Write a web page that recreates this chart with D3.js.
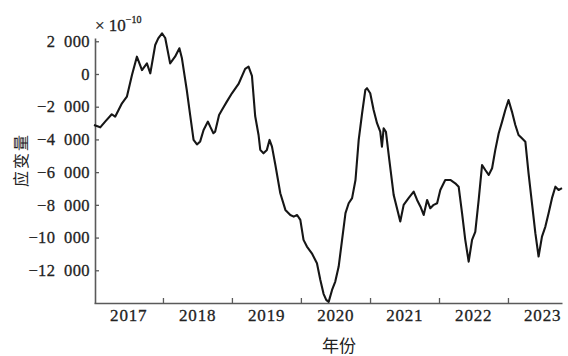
<!DOCTYPE html>
<html>
<head>
<meta charset="utf-8">
<script src="https://cdn.jsdelivr.net/npm/d3@7"></script>
<style>
  html, body { margin: 0; padding: 0; background: #fff; }
  svg { display: block; }
  .num { font-family: "Liberation Serif", "Times New Roman", serif; fill: #222; stroke: #222; stroke-width: 0.3; }
  .cjk { font-family: "Noto Sans CJK SC", sans-serif; fill: #222; }
</style>
</head>
<body>
<svg id="chart" width="568" height="356"></svg>
<script>
// Strain series (units of 1e-10), sampled along the record
const dates = [
  "2017-01-01","2017-02-03","2017-03-01","2017-04-05","2017-04-23","2017-05-29","2017-06-24","2017-07-21",
  "2017-08-16","2017-09-12","2017-10-08","2017-10-26","2017-11-21","2017-12-07","2017-12-27","2018-01-13",
  "2018-02-08","2018-03-06","2018-03-29","2018-04-11","2018-05-07","2018-05-25","2018-06-12","2018-06-30",
  "2018-07-17","2018-08-04","2018-08-27","2018-09-08","2018-09-25","2018-10-04","2018-10-25","2018-11-09",
  "2018-12-05","2019-01-01","2019-02-05","2019-03-12","2019-03-30","2019-04-17","2019-05-04","2019-05-22",
  "2019-05-31","2019-06-17","2019-07-05","2019-07-19","2019-08-01","2019-08-19","2019-09-14","2019-10-11",
  "2019-11-06","2019-11-24","2019-12-12","2019-12-29","2020-01-15","2020-02-02","2020-02-28","2020-03-26",
  "2020-04-13","2020-04-30","2020-05-14","2020-05-27","2020-06-14","2020-07-01","2020-07-19","2020-08-06",
  "2020-08-24","2020-09-10","2020-09-28","2020-10-16","2020-11-02","2020-11-20","2020-12-07","2020-12-16",
  "2021-01-02","2021-01-20","2021-02-07","2021-02-24","2021-03-05","2021-03-14","2021-03-26","2021-04-13",
  "2021-05-06","2021-06-10","2021-06-28","2021-07-24","2021-08-20","2021-09-07","2021-09-25","2021-10-12",
  "2021-10-30","2021-11-16","2021-12-04","2021-12-22","2022-01-08","2022-02-03","2022-03-02","2022-03-28",
  "2022-04-15","2022-05-03","2022-05-20","2022-06-07","2022-06-25","2022-07-12","2022-07-30","2022-08-17",
  "2022-09-03","2022-09-21","2022-10-09","2022-10-26","2022-11-13","2022-12-01","2022-12-18","2023-01-04",
  "2023-01-22","2023-02-09","2023-02-26","2023-03-16","2023-04-03","2023-04-20","2023-05-08","2023-05-26",
  "2023-06-12","2023-06-30","2023-07-18","2023-08-04","2023-08-22","2023-09-09","2023-09-26","2023-10-14"
];
const strain = [
  -3120,-3260,-2910,-2460,-2610,-1790,-1390,-60,
  1060,240,650,40,1770,2180,2490,2200,
  650,1060,1570,980,-980,-2510,-4030,-4310,
  -4120,-3420,-2910,-3220,-3620,-3530,-2510,-2200,
  -1690,-1180,-610,310,450,-120,-2570,-3730,
  -4640,-4850,-4640,-4030,-4440,-5560,-7290,-8310,
  -8620,-8720,-8620,-8920,-10140,-10550,-10960,-11570,
  -12590,-13440,-13810,-13930,-13200,-12690,-11770,-10140,
  -8510,-7900,-7590,-6480,-4030,-2400,-980,-870,
  -1180,-2200,-3010,-3530,-4440,-3320,-3530,-5250,
  -7390,-9020,-8000,-7590,-7190,-7700,-8110,-8620,
  -7700,-8210,-8000,-7900,-7090,-6480,-6480,-6680,
  -6890,-8510,-10140,-11470,-10140,-9650,-7700,-5560,
  -5870,-6170,-5760,-4640,-3620,-2910,-2200,-1590,
  -2300,-3120,-3730,-3930,-4140,-6070,-7900,-9730,
  -11160,-9940,-9330,-8510,-7590,-6890,-7090,-6980
];

const yTicks = [2000, 0, -2000, -4000, -6000, -8000, -10000, -12000];
const yearTicks = [2018, 2019, 2020, 2021, 2022, 2023];
const yearLabels = [2017, 2018, 2019, 2020, 2021, 2022, 2023];
const yDomain = [-14000, 2200];
const xStart = "2017-01-01", xEnd = "2023-10-14";

const svg = d3.select("#chart");
const parse = d3.timeParse("%Y-%m-%d");
const data = dates.map((d, i) => ({ t: parse(d), v: strain[i] }));

const x = d3.scaleTime().domain([parse(xStart), parse(xEnd)]).range([94, 562]);
const y = d3.scaleLinear().domain(yDomain).range([303, 38]);

// Thousands grouped with a figure space, true minus sign
const fmt = v => {
  const s = Math.abs(v).toString().replace(/\B(?=(\d{3})+(?!\d))/g, "\u2007");
  return (v < 0 ? "\u2212" : "") + s;
};

const axisColor = "#5a5a5a";

// Y axis with inward ticks
const gy = svg.append("g").attr("transform", "translate(95,0)")
  .call(d3.axisLeft(y).tickValues(yTicks).tickFormat(fmt).tickSizeInner(-4).tickSizeOuter(0).tickPadding(5));
gy.select(".domain").attr("stroke", axisColor).attr("stroke-width", 1.6);
gy.selectAll(".tick line").attr("stroke", axisColor).attr("stroke-width", 1.3);
gy.selectAll(".tick text").attr("class", "num").attr("font-size", 16.5)
  .attr("letter-spacing", 0.4).attr("fill", "#222");

// X axis: year boundary ticks pointing up, labels centred on each year
const gx = svg.append("g").attr("transform", "translate(0,303)")
  .call(d3.axisBottom(x).tickValues(yearTicks.map(yr => new Date(yr, 0, 1))).tickFormat("").tickSizeInner(-5).tickSizeOuter(0));
gx.select(".domain").attr("stroke", axisColor).attr("stroke-width", 1.6);
gx.selectAll(".tick line").attr("stroke", axisColor).attr("stroke-width", 1.3);

const gxl = svg.append("g").attr("transform", "translate(0,303)")
  .call(d3.axisBottom(x).tickValues(yearLabels.map(yr => new Date(yr, 6, 1))).tickFormat(d3.timeFormat("%Y")).tickSize(0).tickPadding(6));
gxl.select(".domain").remove();
gxl.selectAll(".tick text").attr("class", "num").attr("font-size", 17)
  .attr("letter-spacing", 0.8).attr("fill", "#222");

// Strain curve
const line = d3.line().x(d => x(d.t)).y(d => y(d.v)).curve(d3.curveLinear);
svg.append("path").datum(data)
  .attr("d", line)
  .attr("fill", "none")
  .attr("stroke", "#161616")
  .attr("stroke-width", 2.1)
  .attr("stroke-linejoin", "round");

// Unit multiplier
const unit = svg.append("text").attr("class", "num").attr("x", 95).attr("y", 31).attr("font-size", 17);
unit.append("tspan").text("\u00d7 10");
unit.append("tspan").attr("dy", -8).attr("font-size", 10).text("\u221210");

// Axis titles
svg.append("text").attr("class", "cjk")
  .attr("transform", "translate(27,160) rotate(-90)")
  .attr("text-anchor", "middle").attr("font-size", 16).attr("letter-spacing", 2)
  .text("应变量");
svg.append("text").attr("class", "cjk")
  .attr("x", 339).attr("y", 352)
  .attr("text-anchor", "middle").attr("font-size", 17)
  .text("年份");
</script>
</body>
</html>
